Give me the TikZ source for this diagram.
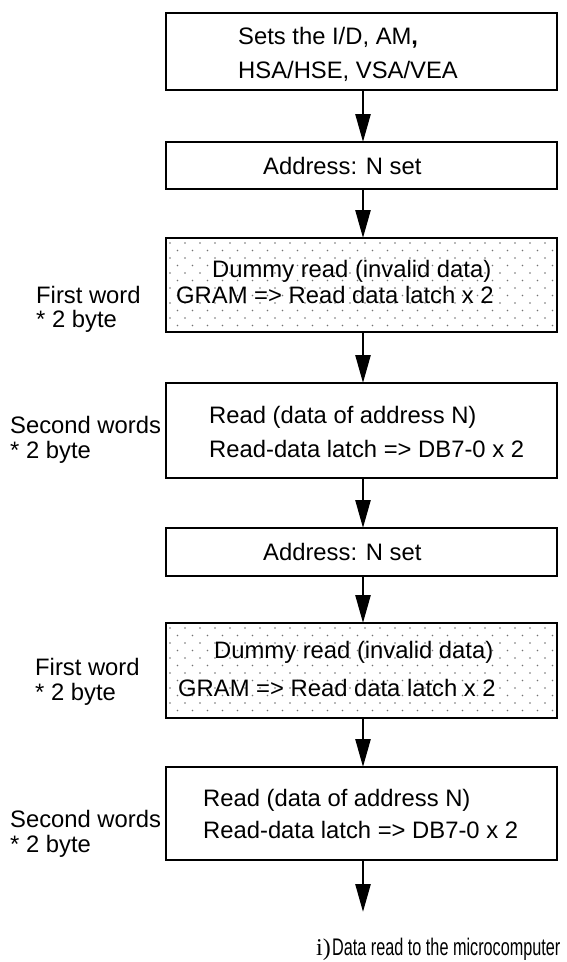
\documentclass[tikz,border=0pt]{standalone}
\usepackage{fontspec}
\setmainfont{Liberation Sans}
\newfontfamily\serifcap{Liberation Serif}
\usetikzlibrary{arrows.meta}
\begin{document}
\begin{tikzpicture}[x=1pt,y=-1pt,
  box/.style={draw, line width=2.2pt, inner sep=0pt, outer sep=0pt, minimum width=391pt, anchor=north west},
  txt/.style={anchor=base west, inner sep=0pt, font=\fontsize{23.8}{28}\selectfont},
  flow/.style={line width=2.6pt, -{Triangle[length=28pt,width=15pt]}},
  dotc/.style={fill=black!55}
]
\useasboundingbox (0,0) rectangle (566,962);

% boxes
\node[box, minimum height=77pt] (b1) at (166,13) {};
\node[box, minimum height=47pt] (b2) at (166,142) {};
\node[box, minimum height=94pt] (b3) at (166,238) {};
\node[box, minimum height=95pt] (b4) at (166,383) {};
\node[box, minimum height=48pt] (b5) at (166,528) {};
\node[box, minimum height=95pt] (b6) at (166,623) {};
\node[box, minimum height=93pt] (b7) at (166,767) {};

% dotted fills
\begin{scope}
  \clip ([shift={(1.2pt,-1.2pt)}]b3.north west) rectangle ([shift={(-1.2pt,1.2pt)}]b3.south east);
  \foreach \r in {0,...,12} {
    \foreach \c in {0,...,26} {
      \fill[dotc] ({170+\c*15+mod(\r,2)*7.5},{243+\r*7.5}) circle (0.8);
    }
  }
\end{scope}
\begin{scope}
  \clip ([shift={(1.2pt,-1.2pt)}]b6.north west) rectangle ([shift={(-1.2pt,1.2pt)}]b6.south east);
  \foreach \r in {0,...,12} {
    \foreach \c in {0,...,26} {
      \fill[dotc] ({170+\c*15+mod(\r,2)*7.5},{628+\r*7.5}) circle (0.8);
    }
  }
\end{scope}

% box texts
\node[txt] (t1a) at (238,44) {Sets the I/D, AM\textbf{,}};
\node[txt] (t1b) at (238,78) {HSA/HSE, VSA/VEA};
\node[txt] (t2) at (263,174) {Address: N set};
\node[txt] (t3a) at (212,277) {Dummy read (invalid data)};
\node[txt] (t3b) at (176,303) {GRAM => Read data latch x 2};
\node[txt] (t4a) at (209,423) {Read (data of address N)};
\node[txt] (t4b) at (209,457) {Read-data latch => DB7-0 x 2};
\node[txt] (t5) at (263,560) {Address: N set};
\node[txt] (t6a) at (214,658) {Dummy read (invalid data)};
\node[txt] (t6b) at (178,696) {GRAM => Read data latch x 2};
\node[txt] (t7a) at (203,806) {Read (data of address N)};
\node[txt] (t7b) at (203,838) {Read-data latch => DB7-0 x 2};

% side labels
\node[txt] (l3a) at (36,303) {First word};
\node[txt] (l3b) at (36,327) {* 2 byte};
\node[txt] (l4a) at (10,433) {Second words};
\node[txt] (l4b) at (10,458) {* 2 byte};
\node[txt] (l6a) at (35,675) {First word};
\node[txt] (l6b) at (35,700) {* 2 byte};
\node[txt] (l7a) at (10,827) {Second words};
\node[txt] (l7b) at (10,852) {* 2 byte};

% connectors
\draw[flow] ([xshift=1.5pt]b1.south) -- ([xshift=1.5pt]b2.north);
\draw[flow] ([xshift=1.5pt]b2.south) -- ([xshift=1.5pt]b3.north);
\draw[flow] ([xshift=1.5pt]b3.south) -- ([xshift=1.5pt]b4.north);
\draw[flow] ([xshift=1.5pt]b4.south) -- ([xshift=1.5pt]b5.north);
\draw[flow] ([xshift=1.5pt]b5.south) -- ([xshift=1.5pt]b6.north);
\draw[flow] ([xshift=1.5pt]b6.south) -- ([xshift=1.5pt]b7.north);
\coordinate (end) at (363,912);
\draw[flow] ([xshift=1.5pt]b7.south) -- (end);

% caption
\node[anchor=base west, inner sep=0pt] (capi) at (316,955) {\serifcap\fontsize{24}{28}\selectfont i)};
\node[anchor=base west, inner sep=0pt] (capt) at (332,955) {\scalebox{0.676}[1]{\fontsize{24}{28}\selectfont Data read to the microcomputer}};
\end{tikzpicture}
\end{document}
